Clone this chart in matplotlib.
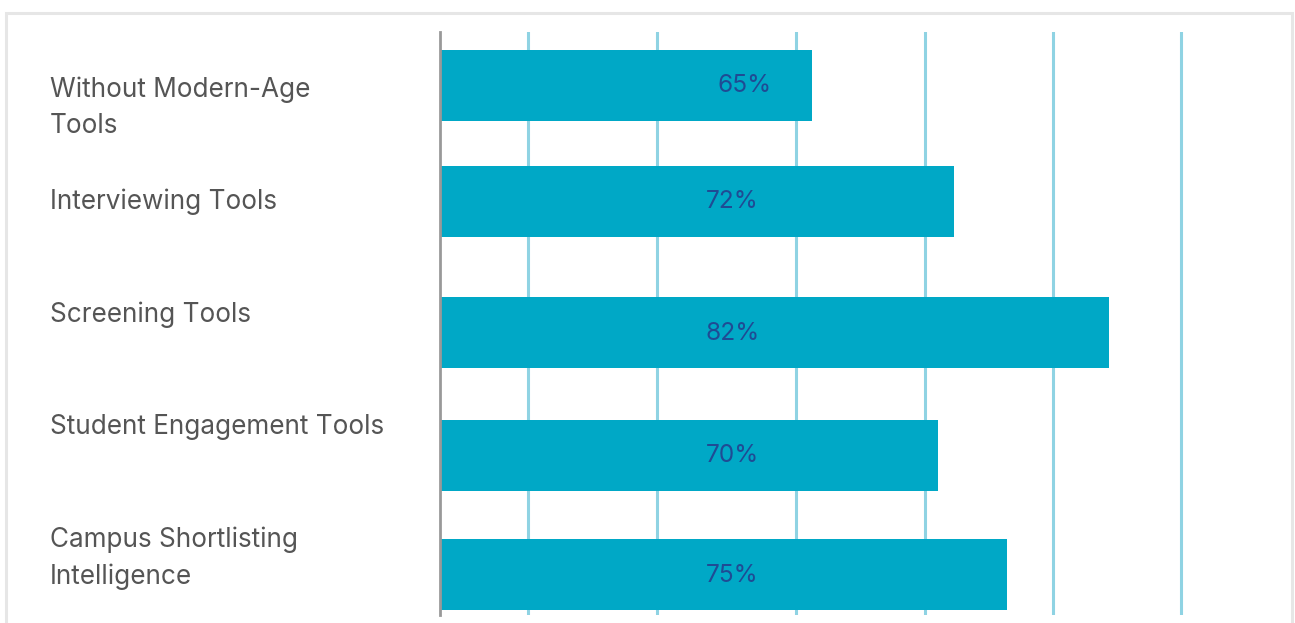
import matplotlib
matplotlib.use("Agg")
import matplotlib.pyplot as plt
from matplotlib.patches import Rectangle

# data
categories = ["Without Modern-Age\nTools", "Interviewing Tools", "Screening Tools",
              "Student Engagement Tools", "Campus Shortlisting\nIntelligence"]
bar_length = [43.8, 60.5, 78.7, 58.6, 66.7]   # as drawn on the x axis (0-100)
pct_labels = ["65%", "72%", "82%", "70%", "75%"]
grid_ticks = [10.3, 25.5, 41.9, 57.0, 72.1, 87.2]

plt.rcParams['font.family'] = ['Inter', 'DejaVu Sans']

W, H = 1295, 623
fig = plt.figure(figsize=(W / 100, H / 100), dpi=100)

# light grey frame round the card (bottom runs off the picture)
fig.patches.append(Rectangle((6 / W, -0.1), (1292 - 6) / W, 1 - 13 / H + 0.1,
                             transform=fig.transFigure, fill=False,
                             edgecolor='#e6e6e6', linewidth=2.2))

ax = fig.add_axes([440 / W, 1 - 615 / H, (1290 - 440) / W, (615 - 32) / H])

# rows are not evenly spaced in the original layout
row_pos = [0.855, 2.015, 3.325, 4.553, 5.745]
text_x = [35.8, 34.4, 34.4, 34.4, 34.4]

ax.barh(row_pos, bar_length, height=0.71, color='#00a8c6', zorder=2)

for y, x, lab in zip(row_pos, text_x, pct_labels):
    ax.text(x, y + 0.005, lab, ha='center', va='center', fontsize=17.6,
            color='#1f4b94', zorder=3)

for g in grid_ticks:
    ax.axvline(g, color='#8fd3e3', linewidth=2.2, zorder=1)

ax.set_xlim(0, 100)
ax.set_ylim(6.15, 0.32)
for s in ['top', 'right', 'bottom']:
    ax.spines[s].set_visible(False)
ax.spines['left'].set_color('#999999')
ax.spines['left'].set_linewidth(2)
ax.set_xticks([])
ax.set_yticks([])

# category labels on their own even spacing, one text per line
for i, c in enumerate(categories):
    for j, line in enumerate(c.split("\n")):
        fig.text(50 / W, 1 - (96.7 + 112.6 * i + 36.7 * j) / H, line,
                 ha='left', va='baseline', fontsize=18.8, color='#555555')

fig.savefig("out.png", dpi=100)
